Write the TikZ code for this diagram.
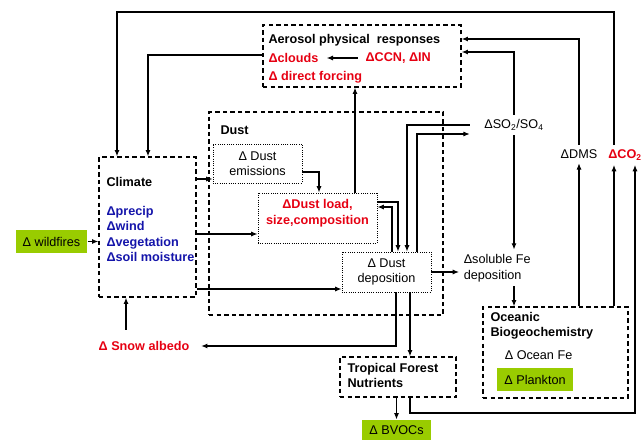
\documentclass[tikz,border=0pt]{standalone}
\usepackage{fontspec}
\setmainfont{Liberation Sans}
\usetikzlibrary{arrows.meta}
\definecolor{figred}{RGB}{230,0,18}
\definecolor{figblue}{RGB}{20,20,170}
\definecolor{figgreen}{RGB}{153,204,0}

\begin{document}
\begin{tikzpicture}
[ x=0.025cm, y=-0.025cm, line width=0.8pt, >={Latex[length=4.5pt,width=3.6pt]}
, font=\fontsize{9}{11}\selectfont
, point/.style={coordinate}
, group/.style={rectangle, draw, line width=0.9pt, dash pattern=on 3.2pt off 2.2pt, inner sep=0pt}
, stage/.style={rectangle, draw, line width=0.6pt, dash pattern=on 0.7pt off 0.9pt, align=center, inner sep=0pt}
, tag/.style={rectangle, fill=figgreen, inner sep=0pt}
, heading/.style={font=\fontsize{9}{11}\selectfont\bfseries, inner sep=0pt}
, effect/.style={heading, text=figred}
, climvar/.style={heading, text=figblue}
, species/.style={inner sep=3pt}
]
\useasboundingbox (0,0) rectangle (642,439);
% Boxes:
\node (aero) [group, minimum width=4.95cm, minimum height=1.55cm] at (362,56) {};
\node (dust) [group, minimum width=5.85cm, minimum height=5.075cm] at (326,213.5) {};
\node (climate) [group, minimum width=2.425cm, minimum height=3.5cm] at (147.5,227) {};
\node (ocean) [group, minimum width=3.625cm, minimum height=2.275cm] at (555.5,352.5) {};
\node (forest) [group, minimum width=2.9cm, minimum height=1cm] at (398,377) {};
\node (emis) [stage, minimum width=2.225cm, minimum height=0.975cm] at (257.5,163.5) {Δ Dust\\emissions};
\node (load) [stage, minimum width=2.975cm, minimum height=1.25cm] at (317.5,218) {};
\node (depo) [stage, minimum width=2.225cm, minimum height=1cm] at (386.5,272) {Δ Dust\\deposition};
\node (wild) [tag, minimum width=1.775cm, minimum height=0.575cm] at (51.5,241.5) {Δ wildfires};
\node (plankton) [tag, minimum width=1.9cm, minimum height=0.575cm] at (535,379.5) {Δ Plankton};
\node (bvoc) [tag, minimum width=1.725cm, minimum height=0.525cm] at (396.5,430.5) {Δ BVOCs};
% Texts:
\node (aerotitle) [heading, anchor=west] at (268,40) {Aerosol physical \ responses};
\node (clouds) [effect, anchor=west] at (268,58) {Δclouds};
\node (ccn) [effect, anchor=west] at (365,58) {ΔCCN, ΔIN};
\node (forcing) [effect, anchor=west] at (268,77) {Δ direct forcing};
\node (dusttitle) [heading, anchor=west] at (220,130) {Dust};
\node (loadtxt) [effect, align=center] at (317.5,213) {ΔDust load,\\size,composition};
\node (climtitle) [heading, anchor=west] at (106,182) {Climate};
\node (climvars) [climvar, align=left, anchor=west, font=\fontsize{9}{10.9}\selectfont\bfseries] at (106,234)
  {Δprecip\\Δwind\\Δvegetation\\Δsoil moisture};
\node (snow) [effect, inner sep=8pt] at (144,346) {Δ Snow albedo};
\node (so2) [species, inner xsep=10pt] at (514,125) {ΔSO\textsubscript{2}/SO\textsubscript{4}};
\node (dms) [species] at (579,154) {ΔDMS};
\node (co2) [effect, inner sep=3pt] at (625,155) {ΔCO\textsubscript{2}};
\node (fe) [species, align=left, anchor=west] at (459,268) {Δsoluble Fe\\deposition};
\node (oceantitle) [heading, align=left, anchor=west] at (490,326) {Oceanic\\Biogeochemistry};
\node (oceanfe) [species, anchor=west] at (500,355) {Δ Ocean Fe};
\node (foresttxt) [heading, align=left, anchor=west] at (347,375.5) {Tropical Forest\\Nutrients};
% Bends:
\node (p1) [point] at (117,12) {};
\node (p2) [point] at (614,12) {};
\node (p3) [point] at (148,55) {};
\node (p4) [point] at (579,39) {};
\node (p5) [point] at (514,52) {};
\node (p6) [point] at (407,125) {};
\node (p7) [point] at (417,134) {};
\node (p8) [point] at (398,202) {};
\node (p9) [point] at (392,207) {};
\node (p10) [point] at (319,172) {};
\node (p11) [point] at (396,346) {};
\node (p12) [point] at (410,413) {};
\node (p13) [point] at (635,413) {};
\node (p14) [point] at (355,150) {};
\node (p15) [point] at (205,179) {};
\node (p16) [point] at (230,234) {};
\node (p17) [point] at (270,289) {};
\node (p18) [point] at (126,320) {};
% Connectors:
\draw [->] (co2.north -| p2) -- (p2) -- (p1) -- (climate.north -| p1);
\draw [->] (aero.west |- p3) -- (p3) -- (climate.north -| p3);
\draw [->] (dms.north) -- (p4) -- (aero.east |- p4);
\draw [->] (so2.north) -- (p5) -- (aero.east |- p5);
\draw [->, shorten <=5pt, shorten >=5.5pt] (ccn.west) -- (clouds.east |- ccn.west);
\draw [->] (so2.west |- p6) -- (p6) -- (depo.north -| p6);
\draw [->] (depo.north -| p7) -- (p7) -- (so2.west |- p7);
\draw [->] (load.east |- p8) -- (p8) -- (depo.north -| p8);
\draw [->] (depo.north -| p9) -- (p9) -- (load.east |- p9);
\draw [->] (emis.east |- p10) -- (p10) -- (load.north -| p10);
\draw [->] (load.north -| p14) -- (aero.south -| p14);
\draw [->] (climate.east |- p15) -- (emis.west |- p15);
\draw [->] (climate.east |- p16) -- (load.west |- p16);
\draw [->] (climate.east |- p17) -- (depo.west |- p17);
\draw [->] (wild) -- (climate.west |- wild);
\draw [->] (snow.north -| p18) -- (climate.south -| p18);
\draw [->] (depo.south -| p11) -- (p11) -- (snow.east);
\draw [->] (depo.south -| p12) -- (forest.north -| p12);
\draw [->] (depo.east) -- (fe.west |- depo.east);
\draw [->] (so2.south) -- (fe.north -| so2.south);
\draw [->] (fe.south -| so2.south) -- (ocean.north -| so2.south);
\draw [->] (ocean.north -| dms) -- (dms.south);
\draw [->] (ocean.north -| p2) -- (co2.south -| p2);
\draw [->] (forest.south -| p12) -- (p12) -- (p13) -- (co2.south -| p13);
\draw [->] (forest.south -| bvoc) -- (bvoc.north);
\end{tikzpicture}
\end{document}
